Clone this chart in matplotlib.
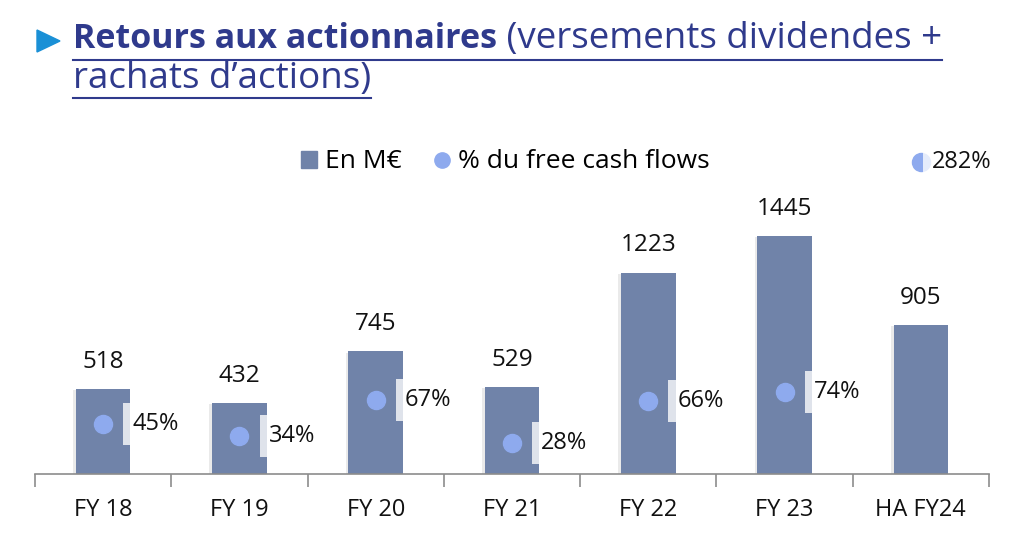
import numpy as np
import matplotlib
matplotlib.use("Agg")
import matplotlib.pyplot as plt
from matplotlib.patches import Polygon, Patch
from matplotlib.lines import Line2D
import matplotlib.patheffects as pe

# data
categories = ["FY 18", "FY 19", "FY 20", "FY 21", "FY 22", "FY 23", "HA FY24"]
returns_meur = [518, 432, 745, 529, 1223, 1445, 905]
pct_fcf = [45, 34, 67, 28, 66, 74, 282]

bar_color = "#7083a9"
dot_color = "#8eaaee"
title_color = "#2f3a8c"
font = "Open Sans"

plt.rcParams["font.family"] = [font, "DejaVu Sans"]

fig = plt.figure(figsize=(10.24, 5.56), dpi=100)
ax = fig.add_axes([35 / 1024, 82 / 556, 954 / 1024, 334 / 556])
ax2 = ax.twinx()

x = np.arange(len(categories))
bars = ax.bar(x, returns_meur, width=0.4, color=bar_color, zorder=2, label="En M€")
for b in bars:
    b.set_path_effects([pe.SimplePatchShadow(offset=(-2, -1), alpha=0.12, shadow_rgbFace="#555555"),
                        pe.Normal()])
for xi, v in zip(x, returns_meur):
    ax.annotate(f"{v}", (xi, v), xytext=(0, 19.5), textcoords="offset points",
                ha="center", va="center", fontsize=17.5, color="#111111")

ax.set_xlim(-0.5, len(categories) - 0.5)
ax.set_ylim(0, 334 / 0.1647)
ax2.set_ylim(0, 334 / 1.106)

ax2.plot(x, pct_fcf, "o", ms=13, color=dot_color, zorder=3, label="% du free cash flows")
# labels with a translucent white box, as on the slide
offsets = [21, 21, 21, 21, 21, 21, 8]
for xi, p, off in zip(x, pct_fcf, offsets):
    ax2.annotate(f"{p}%", (xi, p), xytext=(off, 0), textcoords="offset points",
                 ha="left", va="center", fontsize=17, color="#111111", zorder=4,
                 bbox=dict(boxstyle="square,pad=0.38", fc="white", ec="none", alpha=0.78))

for a in (ax, ax2):
    for s in ["top", "left", "right"]:
        a.spines[s].set_visible(False)
    a.set_yticks([])
ax2.spines["bottom"].set_visible(False)
ax.spines["bottom"].set_color("#8c8c8c")
ax.spines["bottom"].set_linewidth(1.2)
ax.set_xticks(np.arange(len(categories) + 1) - 0.5)
ax.set_xticklabels([])
ax.tick_params(axis="x", which="major", length=9, width=1.2, color="#8c8c8c", direction="out")
ax.set_xticks(x, minor=True)
ax.set_xticklabels(categories, minor=True, fontsize=17, color="#111111")
ax.tick_params(axis="x", which="minor", length=0, pad=17)

# legend row
handles = [Patch(color=bar_color), Line2D([], [], marker="o", ls="none", ms=11, color=dot_color)]
fig.legend(handles, ["En M€", "% du free cash flows"], loc="center", ncol=2,
           bbox_to_anchor=(505 / 1024, 1 - 162 / 556), frameon=False, fontsize=19,
           handlelength=0.62, handleheight=0.62, handletextpad=0.3, columnspacing=1.2,
           borderaxespad=0)

# title
tri = Polygon([[37 / 1024, 1 - 30 / 556], [37 / 1024, 1 - 52 / 556], [60 / 1024, 1 - 41 / 556]],
              closed=True, transform=fig.transFigure, color="#1a90d6")
fig.patches.append(tri)
t1 = fig.text(73 / 1024, 1 - 39 / 556, "Retours aux actionnaires", fontsize=24.5,
              fontweight="bold", color=title_color, va="center", ha="left")
fig.canvas.draw()
r = fig.canvas.get_renderer()
bb1 = t1.get_window_extent(r)
t2 = fig.text(bb1.x1 / 1024, 1 - 39 / 556, " (versements dividendes +", fontsize=26.5,
              color=title_color, va="center", ha="left")
t3 = fig.text(73 / 1024, 1 - 79 / 556, "rachats d\u2019actions)", fontsize=26.5,
              color=title_color, va="center", ha="left")
fig.canvas.draw()
bb2 = t2.get_window_extent(r)
bb3 = t3.get_window_extent(r)
for x0, x1, yy in [(bb1.x0, bb2.x1, 1 - 60 / 556), (bb3.x0, bb3.x1, 1 - 98 / 556)]:
    fig.add_artist(Line2D([x0 / 1024, x1 / 1024], [yy, yy], transform=fig.transFigure,
                          color=title_color, lw=1.5))

fig.savefig("out.png", dpi=100)
